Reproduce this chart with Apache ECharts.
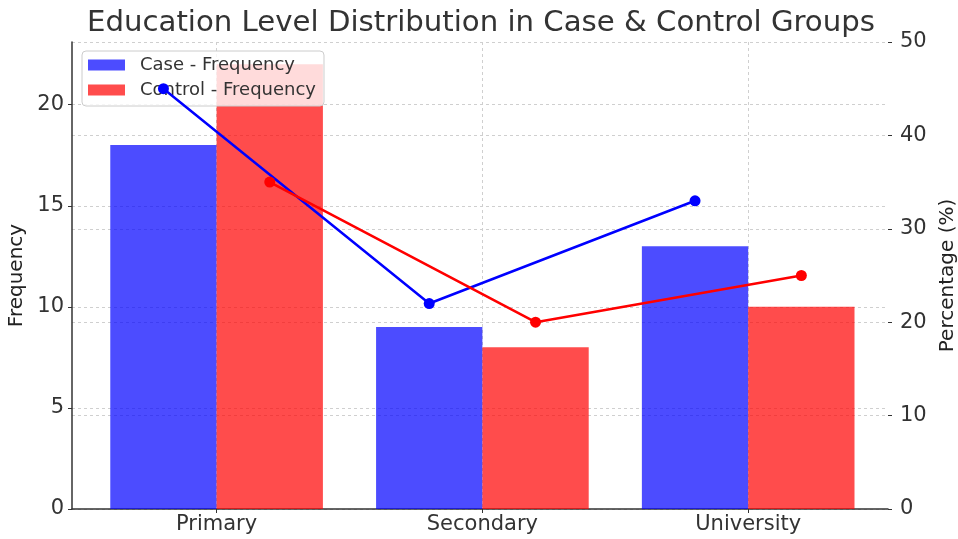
<!DOCTYPE html>
<html>
<head>
<meta charset="utf-8">
<script src="https://cdn.jsdelivr.net/npm/echarts@6/dist/echarts.min.js"></script>
<style>
html,body{margin:0;padding:0;background:#fff;}
#chart{width:958px;height:539px;}
</style>
</head>
<body>
<div id="chart"></div>
<script>
const categories = ['Primary', 'Secondary', 'University'];
const caseFreq = [18, 9, 13];
const controlFreq = [22, 8, 10];
const casePct = [45, 22, 33];
const controlPct = [35, 20, 25];
const leftTicks = [0, 5, 10, 15, 20];
const rightTicks = [0, 10, 20, 30, 40, 50];

const OFF = 0.2;
const font = 'DejaVu Sans';
const idx = categories.map((c, i) => i);
const pos = (arr, d) => arr.map((v, i) => [i + d, v]);
const gridLine = {show: true, lineStyle: {color: '#cfcfcf', type: [3, 3], width: 1}};

const chart = echarts.init(document.getElementById('chart'), null, {renderer: 'canvas'});
chart.setOption({
  animation: false,
  textStyle: {fontFamily: font},
  title: {
    text: 'Education Level Distribution in Case & Control Groups',
    left: 82, top: 4,
    textStyle: {fontFamily: font, fontSize: 29.2, fontWeight: 'normal', color: '#333'}
  },
  legend: {
    data: ['Case - Frequency', 'Control - Frequency'],
    orient: 'vertical', left: 82, top: 51,
    padding: [5, 8, 7, 6], itemGap: 7,
    itemWidth: 37, itemHeight: 11, icon: 'rect',
    borderColor: '#ccc', borderWidth: 1, borderRadius: 4,
    backgroundColor: 'rgba(255,255,255,0.8)',
    textStyle: {fontFamily: font, fontSize: 18, color: '#333', padding: [0, 0, 0, 10]},
    z: 4
  },
  grid: {left: 72, right: 70, top: 42, bottom: 30, containLabel: false, outerBoundsMode: 'none'},
  xAxis: {
    type: 'value', min: -0.544, max: 2.526,
    axisLine: {show: true, onZero: false, lineStyle: {color: '#333', width: 1.5}},
    axisTick: {show: true, length: 4, customValues: idx, lineStyle: {color: '#333'}},
    axisLabel: {customValues: idx, formatter: v => categories[Math.round(v)] || '',
      fontFamily: font, fontSize: 21, color: '#333', margin: 5},
    splitLine: gridLine
  },
  yAxis: [{
    type: 'value', min: 0, max: 23.1, position: 'left',
    name: 'Frequency', nameLocation: 'middle', nameGap: 38, nameRotate: 90,
    nameTextStyle: {fontFamily: font, fontSize: 20, color: '#222'},
    axisLine: {show: true, onZero: false, lineStyle: {color: '#333', width: 1.5}},
    axisTick: {show: true, length: 4, customValues: leftTicks, lineStyle: {color: '#333'}},
    axisLabel: {customValues: leftTicks, fontFamily: font, fontSize: 21, color: '#333', margin: 8},
    splitLine: gridLine
  }, {
    type: 'value', min: 0, max: 50, position: 'right',
    name: 'Percentage (%)', nameLocation: 'middle', nameGap: 43, nameRotate: 90,
    nameTextStyle: {fontFamily: font, fontSize: 20, color: '#222'},
    axisLine: {show: false, onZero: false},
    axisTick: {show: true, length: 4, customValues: rightTicks, lineStyle: {color: '#333'}},
    axisLabel: {customValues: rightTicks, fontFamily: font, fontSize: 21, color: '#333', margin: 12},
    splitLine: gridLine
  }],
  series: [{
    name: 'Case - Frequency', type: 'bar', xAxisIndex: 0, yAxisIndex: 0,
    data: pos(caseFreq, -OFF), barWidth: '100%', barGap: '-100%',
    itemStyle: {color: 'rgba(0,0,255,0.7)'}, z: 2
  }, {
    name: 'Control - Frequency', type: 'bar', xAxisIndex: 0, yAxisIndex: 0,
    data: pos(controlFreq, OFF), barWidth: '100%', barGap: '-100%',
    itemStyle: {color: 'rgba(255,0,0,0.7)'}, z: 2
  }, {
    name: 'Case - Percentage', type: 'line', xAxisIndex: 0, yAxisIndex: 1,
    data: pos(casePct, -OFF), symbol: 'circle', symbolSize: 11,
    lineStyle: {color: '#0000ff', width: 2.5}, itemStyle: {color: '#0000ff'}, z: 6
  }, {
    name: 'Control - Percentage', type: 'line', xAxisIndex: 0, yAxisIndex: 1,
    data: pos(controlPct, OFF), symbol: 'circle', symbolSize: 11,
    lineStyle: {color: '#ff0000', width: 2.5}, itemStyle: {color: '#ff0000'}, z: 6
  }]
});
</script>
</body>
</html>
